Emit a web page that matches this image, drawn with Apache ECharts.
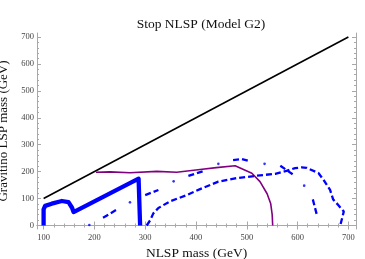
<!DOCTYPE html>
<html><head><meta charset="utf-8">
<script src="https://cdn.jsdelivr.net/npm/echarts@6/dist/echarts.min.js"></script>
<style>html,body{margin:0;padding:0;background:#fff}#c{width:365px;height:259px}</style>
</head><body><div id="c"></div>
<script>
// ---- data (GeV) ----
const xTicks = [100, 200, 300, 400, 500, 600, 700];
const yTicks = [0, 100, 200, 300, 400, 500, 600, 700];
const diagonal = [[100, 100], [700, 700]];
const purpleCurve = [[203,198],[231,199],[270,196],[323,201],[362,198],[408,208],[440,215],[477,222],[510,194],[526,163],[540,118],[547,82],[550,40],[551,0]];
const thickBlue = [[100,0],[100,60],[103,73],[116,81],[136,91],[149,87],[156,66],[159,50],[287,174],[290,172],[290,0]];
const dashedMain = [[303,0],[310,20],[316,45],[326,65],[349,90],[382,113],[408,135],[444,163],[477,175],[520,185],[556,192],[578,203],[595,213],[608,216],[618,214],[641,195],[651,170],[664,132],[670,97],[680,76],[691,52],[684,0]];
const fragA = [[217,29],[245,60]];
const fragB = [[300,113],[326,132]];
const fragC = [[385,184],[416,203]];
const fragD = [[473,243],[490,247],[503,240]];
const fragE = [[566,222],[592,188]];
const fragF = [[630,97],[638,39]];
const dots = [[190,2],[270,86],[356,164],[444,229],[535,229],[613,148]];

const minorX = [], minorY = [];
for (let v = 120; v < 700; v += 20) if (v % 100) minorX.push(v);
for (let v = 20; v < 700; v += 20) if (v % 100) minorY.push(v);

const serif = 'Liberation Serif';
const axisCol = '#a8a8a8';
function xa(pos, vals, len, line, labels, name) {
  return {type:'value', min:87, max:715, position:pos,
    axisLine:{show:line, lineStyle:{color:axisCol, width:1}},
    axisTick:{show:true, inside:true, length:len, customValues:vals, lineStyle:{color:axisCol}},
    axisLabel:{show:labels, customValues:vals, color:'#444', fontFamily:serif, fontSize:8.5, margin:4},
    splitLine:{show:false},
    name:name||'', nameLocation:'middle', nameGap:15,
    nameTextStyle:{fontFamily:serif, fontSize:13.5, color:'#111'}};
}
function ya(pos, vals, len, line, labels, name) {
  return {type:'value', min:-13, max:715, position:pos,
    axisLine:{show:line, lineStyle:{color:axisCol, width:1}},
    axisTick:{show:true, inside:true, length:len, customValues:vals, lineStyle:{color:axisCol}},
    axisLabel:{show:labels, customValues:vals, color:'#444', fontFamily:serif, fontSize:8.5, margin:3},
    splitLine:{show:false},
    name:name||'', nameLocation:'middle', nameGap:19,
    nameTextStyle:{fontFamily:serif, fontSize:13, color:'#111'}};
}
const blueDash = {color:'#0000ff', width:2.3, type:[6,3]};
function dashSeries(d){return {type:'line', data:d, showSymbol:false, lineStyle:blueDash, silent:true, animation:false};}

const series = [
  {type:'line', data:diagonal, showSymbol:false, lineStyle:{color:'#000', width:1.6}, animation:false},
  {type:'line', data:purpleCurve, showSymbol:false, lineStyle:{color:'#800080', width:1.6}, animation:false},
  {type:'line', data:thickBlue, showSymbol:false, lineStyle:{color:'#0000ff', width:4.3, join:'round'}, animation:false},
  dashSeries(dashedMain), dashSeries(fragA), dashSeries(fragB), dashSeries(fragC),
  dashSeries(fragD), dashSeries(fragE), dashSeries(fragF),
  {type:'scatter', data:dots, symbol:'circle', symbolSize:2.6, itemStyle:{color:'#0000ff'}, animation:false}
];

const chart = echarts.init(document.getElementById('c'), null, {renderer:'canvas'});
chart.setOption({
  backgroundColor:'#fff',
  animation:false,
  title:{text:'Stop NLSP (Model G2)', left:196, top:12, textAlign:'center',
    textStyle:{fontFamily:serif, fontSize:13.5, fontWeight:'normal', color:'#111'}},
  grid:{left:37, right:9, top:33, bottom:30, containLabel:false, outerBoundsMode:'none'},
  xAxis:[xa('bottom', xTicks, 4, true, true, 'NLSP mass (GeV)'), xa('bottom', minorX, 2, false, false),
         xa('top', xTicks, 4, true, false), xa('top', minorX, 2, false, false)],
  yAxis:[ya('left', yTicks, 4, true, true, 'Gravitino LSP mass (GeV)'), ya('left', minorY, 2, false, false),
         ya('right', yTicks, 4, true, false), ya('right', minorY, 2, false, false)],
  series:series
});
</script></body></html>
